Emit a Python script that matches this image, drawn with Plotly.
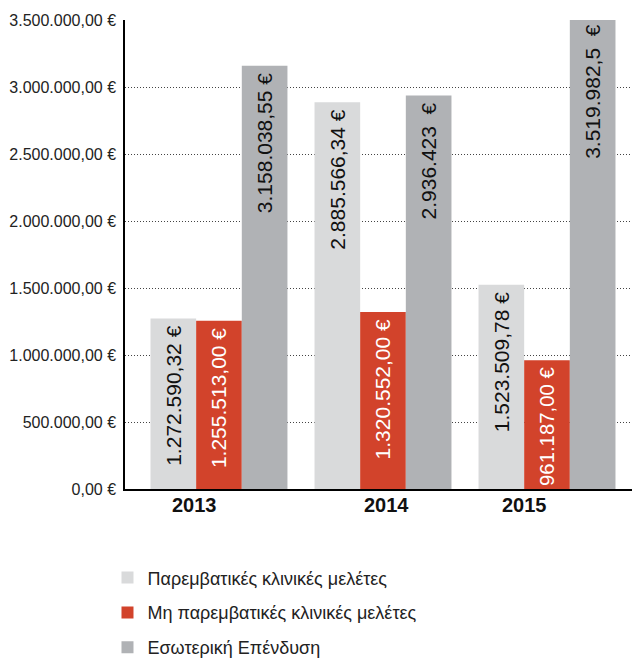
import plotly.graph_objects as go

years = ["2013", "2014", "2015"]
series_names = ["Παρεμβατικές κλινικές μελέτες",
                "Μη παρεμβατικές κλινικές μελέτες",
                "Εσωτερική Επένδυση"]
interventional = [1272590.32, 2885566.34, 1523509.78]
non_interventional = [1255513.00, 1320552.00, 961187.00]
internal = [3158038.55, 2936423.00, 3519982.50]
interventional_labels = ["1.272.590,32 €", "2.885.566,34 €", "1.523.509,78 €"]
non_interventional_labels = ["1.255.513,00 €", "1.320.552,00 €", "961.187,00 €"]
internal_labels = ["3.158.038,55 €", "2.936.423\u00a0\u00a0€", "3.519.982,5\u00a0\u00a0€"]
tick_vals = [0, 500000, 1000000, 1500000, 2000000, 2500000, 3000000, 3500000]
tick_text = ["0,00 €", "500.000,00 €", "1.000.000,00 €", "1.500.000,00 €",
             "2.000.000,00 €", "2.500.000,00 €", "3.000.000,00 €", "3.500.000,00 €"]
colors = ["#d9dadb", "#d2432b", "#b0b2b5"]
text_colors = ["#111111", "#ffffff", "#111111"]

FONT = "Liberation Sans, Arial, sans-serif"

fig = go.Figure()
for i, (vals, labels) in enumerate([(interventional, interventional_labels),
                                     (non_interventional, non_interventional_labels),
                                     (internal, internal_labels)]):
    fig.add_trace(go.Bar(
        x=years, y=vals, name=series_names[i],
        marker=dict(color=colors[i], line=dict(width=0)),
        text=[lab + "\u2009" for lab in labels],
        textposition="inside", insidetextanchor="end",
        textangle=-90, constraintext="inside",
        textfont=dict(family=FONT, size=21, color=text_colors[i]),
        legendgroup=f"g{i}",
        hoverinfo="skip",
    ))

# year labels (offset as in the original)
offsets = [-0.15, 0.02, -0.14]
for i, yr in enumerate(years):
    fig.add_annotation(x=i + offsets[i], y=0, xref="x", yref="paper",
                       yanchor="top", yshift=-3, showarrow=False, text=f"<b>{yr}</b>",
                       font=dict(family=FONT, size=20, color="#111111"))

fig.update_layout(
    width=632, height=651, autosize=False,
    margin=dict(l=117, r=0, t=12, b=170, autoexpand=False),
    plot_bgcolor="white", paper_bgcolor="white",
    barmode="group", bargap=0.165, bargroupgap=0,
    font=dict(family=FONT, color="#222222"),
    showlegend=True,
    legend=dict(orientation="v", x=-0.034, xanchor="left", y=-0.15, yanchor="top",
                font=dict(family=FONT, size=18, color="#222222"),
                tracegroupgap=8.5, traceorder="grouped", bgcolor="rgba(0,0,0,0)"),
    xaxis=dict(type="category", range=[-0.573, 2.567], showticklabels=False,
               showline=True, linecolor="black", linewidth=1.5, ticks="",
               showgrid=False, zeroline=False, fixedrange=True, automargin=False),
    yaxis=dict(range=[0, 3500000], tickvals=tick_vals, ticktext=tick_text,
               showline=True, linecolor="black", linewidth=1.5, ticks="",
               showgrid=True, gridcolor="#444444", griddash="1px,2px", gridwidth=1,
               zeroline=False, tickfont=dict(family=FONT, size=16, color="#222222"),
               ticklabelstandoff=4, automargin=False),
)

fig.write_html("out.html")
